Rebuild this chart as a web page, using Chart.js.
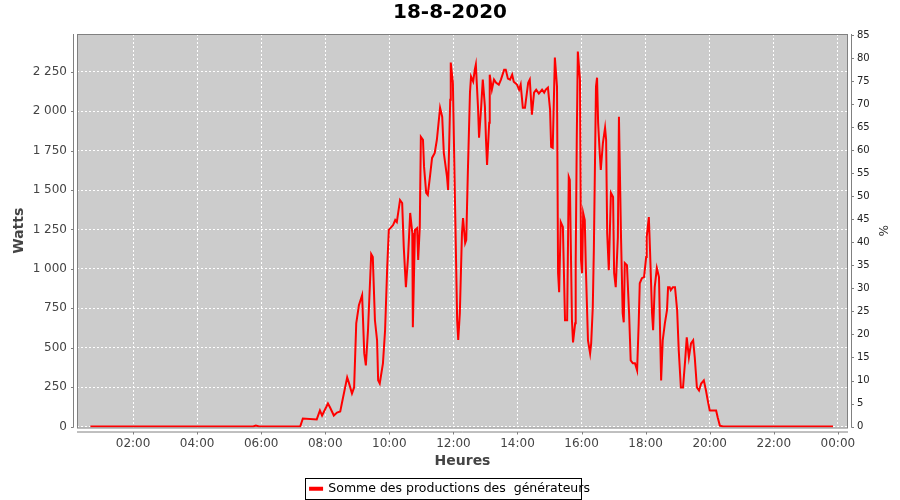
<!DOCTYPE html>
<html>

<head>
    <title>18-8-2020</title>
    <script src="https://cdn.jsdelivr.net/npm/chart.js"></script>
    <style>
        body {
            margin: 0;
            background: #ffffff;
        }

        #prodChart {
            display: block;
        }
    </style>
</head>

<body>
    <canvas id="prodChart" width="900" height="500"></canvas>

    <script>
        // time of each reading, in minutes since midnight
        const minutes = [
            40, 345, 350, 356, 433, 438, 464, 470, 474, 485,
            489, 496, 502, 508, 511, 521, 524, 530, 534, 538,
            543, 549, 553, 556, 560, 566, 569, 573, 577, 579,
            582, 588, 592, 596, 599, 607, 611, 614, 620, 624,
            627, 631, 635, 639, 643, 644, 648, 652, 654, 657,
            659, 663, 665, 669, 672, 676, 680, 685, 689, 695,
            699, 702, 708, 710, 714, 715, 719, 723, 727, 729,
            732, 736, 738, 742, 744, 747, 751, 753, 757, 760,
            762, 766, 768, 772, 775, 779, 781, 783, 787, 788,
            792, 796, 800, 805, 809, 815, 818, 822, 826, 830,
            833, 839, 843, 846, 850, 854, 860, 863, 865, 867,
            871, 875, 880, 886, 890, 893, 897, 901, 903, 906,
            910, 914, 916, 918, 921, 925, 929, 933, 936, 938,
            942, 944, 948, 949, 951, 953, 957, 959, 961, 963,
            966, 968, 972, 976, 978, 981, 983, 987, 989, 991,
            994, 996, 1000, 1004, 1006, 1008, 1011, 1015, 1019, 1021,
            1024, 1028, 1030, 1034, 1037, 1039, 1041, 1045, 1049, 1052,
            1056, 1060, 1064, 1067, 1069, 1073, 1077, 1081, 1082, 1086,
            1088, 1092, 1094, 1097, 1101, 1105, 1107, 1109, 1112, 1116,
            1120, 1122, 1125, 1127, 1131, 1135, 1139, 1142, 1146, 1150,
            1154, 1157, 1161, 1165, 1169, 1172, 1176, 1180, 1184, 1189,
            1193, 1197, 1200, 1206, 1212, 1215, 1219, 1225, 1431
        ];

        // summed production of the generators, in watts
        const watts = [
            0, 0, 6, 0, 0, 51, 45, 102, 70, 146,
            121, 70, 89, 95, 146, 312, 280, 210, 248, 655,
            770, 833, 464, 388, 611, 1094, 1075, 674, 547, 293,
            273, 401, 611, 1011, 1247, 1278, 1310, 1297, 1437, 1418,
            1138, 884, 1075, 1355, 1227, 630, 1247, 1259, 1056, 1266,
            1838, 1819, 1647, 1482, 1469, 1584, 1704, 1736, 1819, 2022,
            1965, 1736, 1584, 1501, 2073, 2309, 2181, 1418, 674, 550,
            719, 1227, 1323, 1164, 1183, 1609, 2118, 2220, 2188, 2264,
            2296, 2029, 1832, 2029, 2201, 2029, 1819, 1660, 1927, 2232,
            2137, 2201, 2181, 2169, 2201, 2264, 2264, 2207, 2201, 2232,
            2188, 2169, 2137, 2169, 2022, 2022, 2181, 2201, 2092, 1978,
            2118, 2137, 2112, 2137, 2118, 2137, 2150, 2010, 1774, 1768,
            2340, 2156, 973, 852, 1297, 1266, 674, 674, 1584, 1565,
            674, 534, 655, 1037, 1819, 2379, 2201, 1056, 973, 1355,
            1310, 1011, 547, 464, 528, 757, 1119, 2156, 2213, 1927,
            1736, 1628, 1800, 1895, 1819, 1227, 992, 1482, 1456, 973,
            884, 1202, 1965, 1183, 719, 661, 1037, 1024, 719, 420,
            401, 401, 356, 655, 909, 941, 948, 1075, 1202, 1329,
            1138, 719, 611, 884, 1005, 948, 611, 293, 547, 655,
            738, 884, 884, 865, 884, 884, 738, 483, 248, 248,
            420, 566, 439, 528, 547, 439, 248, 229, 273, 293,
            229, 153, 102, 102, 102, 57, 6, 0, 0
        ];

        const hourTicks = [120, 240, 360, 480, 600, 720, 840, 960, 1080, 1200, 1320, 1440];
        const wattTicks = [0, 250, 500, 750, 1000, 1250, 1500, 1750, 2000, 2250];
        const pctTicks = [0, 5, 10, 15, 20, 25, 30, 35, 40, 45, 50, 55, 60, 65, 70, 75, 80, 85];

        const fmtHour = (m) => {
            const h = Math.floor(m / 60) % 24;
            return String(h).padStart(2, '0') + ':' + String(m % 60).padStart(2, '0');
        };
        const fmtWatts = (v) => String(v).replace(/\B(?=(\d{3})+(?!\d))/g, ' ');

        Chart.defaults.font.family = "'DejaVu Sans', sans-serif";

        const legendFontSize = 12.5;

        // grey plot background, offset axis lines and the box round the legend
        const plotFrame = {
            id: 'plotFrame',
            beforeDraw(chart) {
                const { ctx, chartArea: a } = chart;
                ctx.save();
                ctx.fillStyle = '#cccccc';
                ctx.fillRect(a.left, a.top, a.right - a.left, a.bottom - a.top);
                ctx.restore();
            },
            afterDraw(chart) {
                const { ctx, chartArea: a, scales } = chart;
                ctx.save();
                ctx.strokeStyle = '#808080';
                ctx.lineWidth = 1;
                ctx.strokeRect(a.left + 0.5, a.top + 0.5, a.right - a.left - 1, a.bottom - a.top);

                ctx.beginPath();
                // left axis
                ctx.moveTo(a.left - 3.5, a.top);
                ctx.lineTo(a.left - 3.5, a.bottom);
                wattTicks.forEach(v => {
                    const y = Math.round(scales.y.getPixelForValue(v)) + 0.5;
                    ctx.moveTo(a.left - 3.5, y);
                    ctx.lineTo(a.left - 6, y);
                });
                // right axis
                ctx.moveTo(a.right + 3.5, a.top);
                ctx.lineTo(a.right + 3.5, a.bottom);
                pctTicks.forEach(v => {
                    const y = Math.round(scales.y2.getPixelForValue(v)) + 0.5;
                    ctx.moveTo(a.right + 3.5, y);
                    ctx.lineTo(a.right + 6, y);
                });
                // bottom axis
                ctx.moveTo(a.left, a.bottom + 4.5);
                ctx.lineTo(a.right, a.bottom + 4.5);
                hourTicks.forEach(v => {
                    const x = Math.round(scales.x.getPixelForValue(v)) + 0.5;
                    ctx.moveTo(x, a.bottom + 4.5);
                    ctx.lineTo(x, a.bottom + 7);
                });
                ctx.stroke();

                const hb = chart.legend.legendHitBoxes[0];
                if (hb) {
                    const left = Math.round(hb.left) - 4.5;
                    const right = Math.round(hb.left + hb.width - legendFontSize) + 4.5;
                    ctx.strokeStyle = '#000000';
                    ctx.strokeRect(left, Math.round(hb.top) - 4.5, right - left, 21);
                }
                ctx.restore();
            }
        };

        const points = minutes.map((m, i) => ({ x: m, y: watts[i] }));

        new Chart(document.getElementById('prodChart'), {
            type: 'line',
            data: {
                datasets: [{
                    label: 'Somme des productions des  générateurs',
                    data: points,
                    yAxisID: 'y',
                    borderColor: '#ff0000',
                    backgroundColor: '#ff0000',
                    borderWidth: 2,
                    pointRadius: 0,
                    tension: 0
                }]
            },
            options: {
                responsive: false,
                animation: false,
                layout: {
                    padding: { top: 0, left: 0, right: 0, bottom: -5 }
                },
                plugins: {
                    title: {
                        display: true,
                        text: '18-8-2020',
                        color: '#000000',
                        font: { size: 20, weight: 'bold' },
                        padding: { top: 1, bottom: 9 }
                    },
                    legend: {
                        position: 'bottom',
                        labels: {
                            color: '#000000',
                            font: { size: legendFontSize },
                            boxWidth: 12,
                            boxHeight: 2,
                            padding: 10
                        }
                    },
                    tooltip: { enabled: false }
                },
                scales: {
                    x: {
                        type: 'linear',
                        min: 15,
                        max: 1459,
                        afterBuildTicks: (s) => { s.ticks = hourTicks.map(v => ({ value: v })); },
                        afterFit: (s) => { s.height = 45; },
                        ticks: {
                            callback: (v) => fmtHour(v),
                            color: '#444444',
                            font: { size: 12 },
                            padding: 9,
                            maxRotation: 0,
                            autoSkip: false
                        },
                        grid: { color: '#ffffff', drawTicks: false },
                        border: { display: false, dash: [2, 2] },
                        title: {
                            display: true,
                            text: 'Heures',
                            color: '#444444',
                            font: { size: 14, weight: 'bold' },
                            padding: { top: 0, bottom: 3 }
                        }
                    },
                    y: {
                        position: 'left',
                        min: -6,
                        max: 2490,
                        afterBuildTicks: (s) => { s.ticks = wattTicks.map(v => ({ value: v })); },
                        afterFit: (s) => { s.width = 77; },
                        ticks: {
                            callback: (v) => fmtWatts(v),
                            color: '#444444',
                            font: { size: 12 },
                            padding: 10
                        },
                        grid: { color: '#ffffff', drawTicks: false },
                        border: { display: false, dash: [2, 2] },
                        title: {
                            display: true,
                            text: 'Watts',
                            color: '#444444',
                            font: { size: 14, weight: 'bold' },
                            padding: { top: 11, bottom: 0 }
                        }
                    },
                    y2: {
                        position: 'right',
                        min: -0.2,
                        max: 85.2,
                        afterBuildTicks: (s) => { s.ticks = pctTicks.map(v => ({ value: v })); },
                        afterFit: (s) => { s.width = 52; },
                        ticks: {
                            color: '#222222',
                            font: { size: 10 },
                            padding: 9
                        },
                        grid: { drawOnChartArea: false, drawTicks: false },
                        border: { display: false },
                        title: {
                            display: true,
                            text: '%',
                            color: '#333333',
                            font: { size: 12 },
                            padding: { top: 11, bottom: 0 }
                        }
                    }
                }
            },
            plugins: [plotFrame]
        });
    </script>

</body>

</html>
